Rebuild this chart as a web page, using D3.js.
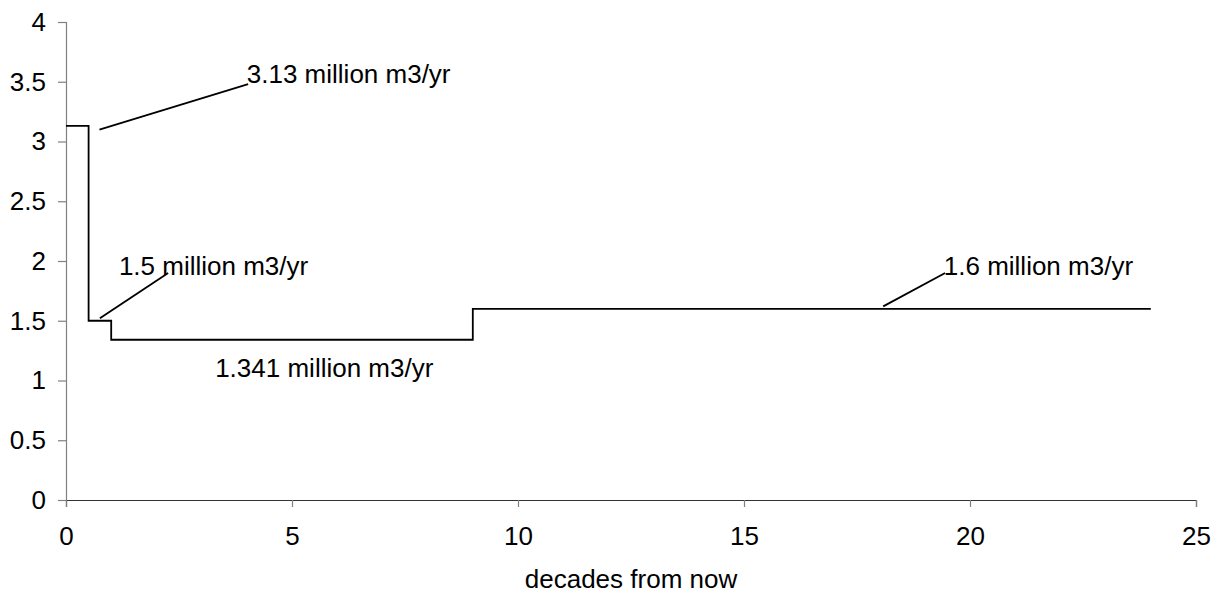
<!DOCTYPE html>
<html>
<head>
<meta charset="utf-8">
<script src="https://cdn.jsdelivr.net/npm/d3@7"></script>
<style>
  html, body { margin: 0; padding: 0; background: #fff; }
  svg text { font-family: Arial, "Liberation Sans", sans-serif; fill: #000; }
</style>
</head>
<body>
<svg id="chart" width="1224" height="593"></svg>
<script>
// ---- data ----
const stepX = [0, 0.5, 1, 9, 24];
const stepY = [3.13, 1.5, 1.341, 1.6, 1.6];
const xTicks = [0, 5, 10, 15, 20, 25];
const yTicks = [0, 0.5, 1, 1.5, 2, 2.5, 3, 3.5, 4];
const xTitle = "decades from now";
const labelTexts = ["3.13 million m3/yr", "1.5 million m3/yr", "1.341 million m3/yr", "1.6 million m3/yr"];
const labelX = [4.0, 1.17, 3.3, 19.42];
const labelY = [3.49, 1.88, 1.03, 1.88];
// leader lines: [x1, y1, x2, y2] in data units (null = none)
const leaders = [[0.74, 3.10, 4.03, 3.48], [0.75, 1.52, 2.26, 1.90], null, [18.08, 1.62, 19.45, 1.90]];

// ---- layout ----
const svg = d3.select("#chart");
const mLeft = 66, mRight = 1196, mTop = 22, mBottom = 500;
const fs = 26;

const x = d3.scaleLinear().domain([0, 25]).range([mLeft, mRight]);
const y = d3.scaleLinear().domain([0, 4]).range([mBottom, mTop]);

// y axis
const yAxis = svg.append("g")
  .attr("transform", `translate(${mLeft},0)`)
  .call(d3.axisLeft(y).tickValues(yTicks).tickFormat(d3.format("~g")).tickSizeOuter(0).tickSize(8).tickPadding(12));
yAxis.select(".domain").attr("stroke", "#808080").attr("stroke-width", 1.2);
yAxis.selectAll(".tick line").attr("stroke", "#808080").attr("stroke-width", 1.2);
yAxis.selectAll("text").style("font-size", fs + "px").attr("fill", "#000");

// x axis
const xAxis = svg.append("g")
  .attr("transform", `translate(0,${mBottom})`)
  .call(d3.axisBottom(x).tickValues(xTicks).tickFormat(d3.format("d")).tickSizeOuter(0).tickSize(7).tickPadding(20));
xAxis.select(".domain").attr("stroke", "#333").attr("stroke-width", 1.2);
xAxis.selectAll(".tick line").attr("stroke", "#808080").attr("stroke-width", 1.2);
xAxis.selectAll("text").style("font-size", fs + "px").attr("fill", "#000");

// x title
svg.append("text")
  .attr("x", (mLeft + mRight) / 2)
  .attr("y", 588)
  .attr("text-anchor", "middle")
  .style("font-size", fs + "px")
  .text(xTitle);

// step line
const pts = stepX.map((d, i) => [d, stepY[i]]);
const line = d3.line().x(d => x(d[0])).y(d => y(d[1])).curve(d3.curveStepAfter);
svg.append("path")
  .attr("d", line(pts))
  .attr("fill", "none")
  .attr("stroke", "#000")
  .attr("stroke-width", 1.8);

// leader lines
leaders.forEach(l => {
  if (!l) return;
  svg.append("line")
    .attr("x1", x(l[0])).attr("y1", y(l[1]))
    .attr("x2", x(l[2])).attr("y2", y(l[3]))
    .attr("stroke", "#000").attr("stroke-width", 1.8);
});

// labels
labelTexts.forEach((t, i) => {
  svg.append("text")
    .attr("x", x(labelX[i]))
    .attr("y", y(labelY[i]))
    .style("font-size", fs + "px")
    .text(t);
});
</script>
</body>
</html>
